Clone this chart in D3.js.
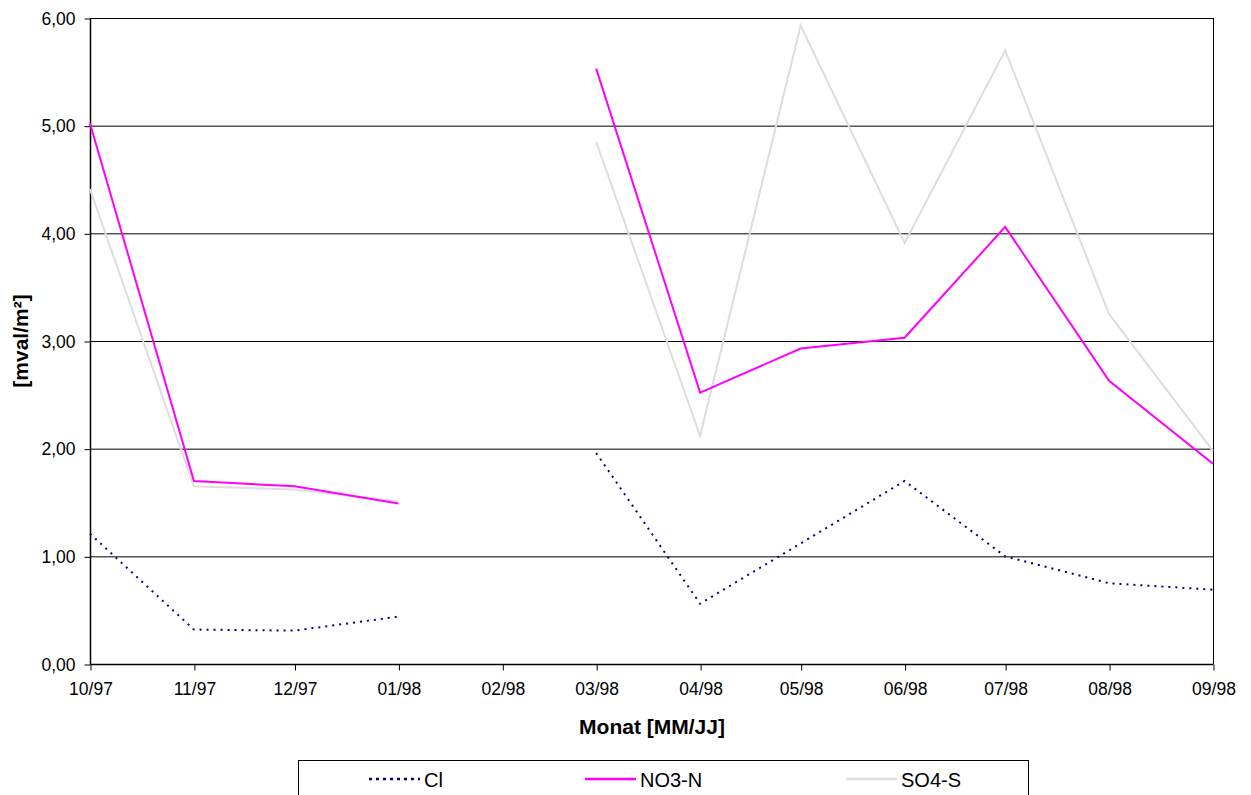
<!DOCTYPE html>
<html><head><meta charset="utf-8">
<script src="https://cdn.jsdelivr.net/npm/d3@7"></script>
<style>body{margin:0;background:#fff}svg{display:block}text{font-family:"Liberation Sans",Arial,sans-serif}</style>
</head><body><svg id="c" width="1251" height="795"></svg>
<script>
const months = ["1997-10","1997-11","1997-12","1998-01","1998-02","1998-03","1998-04","1998-05","1998-06","1998-07","1998-08","1998-09"];
const cl   = [1.21,0.32,0.31,0.44,null,1.96,0.56,1.12,1.70,1.00,0.75,0.69];
const no3n = [5.02,1.70,1.65,1.49,null,5.53,2.52,2.93,3.03,4.06,2.63,1.86];
const so4s = [4.41,1.65,1.62,1.51,null,4.85,2.12,5.93,3.91,5.70,3.25,1.98];
const yTicks = [0,1,2,3,4,5,6];
const seriesNames = ["Cl","NO3-N","SO4-S"];

const svg = d3.select("#c");
const L=90,R=1213,T=18,B=664;
const parse = d3.timeParse("%Y-%m");
const dates = months.map(parse);
const x = d3.scaleTime().domain([dates[0], dates[dates.length-1]]).range([L,R]);
const y = d3.scaleLinear().domain([0,6]).range([B,T]);
const fmtY = v => d3.format(".2f")(v).replace(".",",");

// gridlines
svg.append("g").selectAll("line").data(yTicks.filter(d=>d>0)).join("line")
  .attr("x1",L).attr("x2",R).attr("y1",d=>y(d)+0.5).attr("y2",d=>y(d)+0.5)
  .attr("stroke","#000").attr("stroke-width",1);
// right border
svg.append("line").attr("x1",R+0.5).attr("x2",R+0.5).attr("y1",T).attr("y2",B).attr("stroke","#000");

// axes
const yAxis = d3.axisLeft(y).tickValues(yTicks).tickFormat(fmtY).tickSize(6).tickPadding(9);
const gy = svg.append("g").attr("transform",`translate(${L+0.5},0.5)`).call(yAxis);
const xAxis = d3.axisBottom(x).tickValues(dates).tickFormat(d3.timeFormat("%m/%y")).tickSize(6).tickPadding(12);
const gx = svg.append("g").attr("transform",`translate(0.5,${B+0.5})`).call(xAxis);
[gx,gy].forEach(g=>{
  g.select(".domain").attr("stroke","#000").attr("stroke-width",1.5);
  g.selectAll("line").attr("stroke","#000");
  g.selectAll("text").attr("font-size",17.5).attr("fill","#000").attr("font-family","Liberation Sans, Arial, sans-serif");
});
gx.select(".domain").attr("d",`M${L},0H${R}`);
gy.select(".domain").attr("d",`M0,${T}V${B}`);

// series
const series = [
  {name:seriesNames[0], vals:cl, color:"#000080", dash:"2,5", w:2},
  {name:seriesNames[1], vals:no3n, color:"#FF00FF", dash:null, w:2},
  {name:seriesNames[2], vals:so4s, color:"#DDDDDD", dash:null, w:2}
];
const line = d3.line().defined(d=>d.v!=null).x(d=>x(d.d)).y(d=>y(d.v));
[series[2],series[1],series[0]].forEach(s=>{
  svg.append("path").datum(s.vals.map((v,i)=>({d:dates[i],v})))
    .attr("d",line).attr("fill","none").attr("stroke",s.color)
    .attr("stroke-width",s.w).attr("stroke-dasharray",s.dash);
});

// labels
svg.append("text").attr("x",652).attr("y",734).attr("text-anchor","middle")
  .attr("font-size",21).attr("font-weight","bold").text("Monat [MM/JJ]");
svg.append("text").attr("transform",`translate(28,${(T+B)/2}) rotate(-90)`).attr("text-anchor","middle")
  .attr("font-size",21).attr("font-weight","bold").text("[mval/m²]");

// legend
svg.append("rect").attr("x",298.5).attr("y",760.5).attr("width",730).attr("height",50)
  .attr("fill","#fff").attr("stroke","#000");
const lx = [369,585,846];
series.forEach((s,i)=>{
  svg.append("line").attr("x1",lx[i]).attr("x2",lx[i]+51).attr("y1",779).attr("y2",779)
    .attr("stroke",s.color).attr("stroke-width",s.w+0.5).attr("stroke-dasharray",s.dash?"3,4":null);
  svg.append("text").attr("x",lx[i]+55).attr("y",787).attr("font-size",20).text(s.name);
});
</script></body></html>
